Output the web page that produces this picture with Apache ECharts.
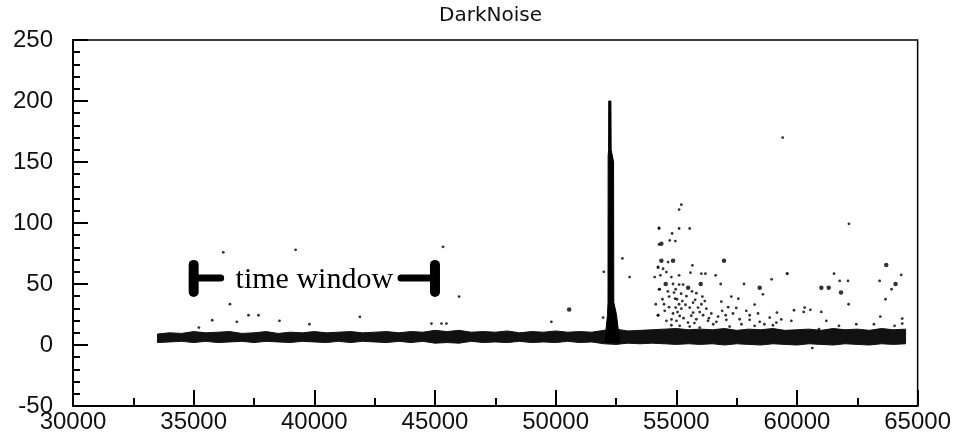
<!DOCTYPE html>
<html>
<head>
<meta charset="utf-8">
<script src="https://cdn.jsdelivr.net/npm/echarts@6/dist/echarts.min.js"></script>
<style>html,body{margin:0;padding:0;background:#fff}#c{width:954px;height:434px}</style>
</head>
<body>
<div id="c"></div>
<script>
// ---- data ----
const titleText = 'DarkNoise';
const xTicks = [30000, 35000, 40000, 45000, 50000, 55000, 60000, 65000];
const yTicks = [-50, 0, 50, 100, 150, 200, 250];

// dense noise band: envelope (x, lower edge, upper edge)
const bandX = [33500,34000,34500,35000,35500,36000,36500,37000,37500,38000,38500,39000,39500,40000,40500,41000,41500,42000,42500,43000,43500,44000,44500,45000,45500,46000,46500,47000,47500,48000,48500,49000,49500,50000,50500,51000,51500,52000,52500,53000,53500,54000,54500,55000,55500,56000,56500,57000,57500,58000,58500,59000,59500,60000,60500,61000,61500,62000,62500,63000,63500,64000,64500];
const bandLow = [2,2.5,3,2,3,2,2.5,3,2,3,2.5,2,3,2.5,2,3,2,3,2.5,2,3,2,3,1.5,2,1.5,3,2,2.5,2,3,2,2.5,2,3,2,2.5,1,0.5,1.5,1,1.5,1,0.5,1,0.5,1,0,1,0.5,0,1,0.5,0,1,0.5,0,1,0.5,0,1,0.5,1];
const bandHigh = [9,10,9.5,11,10,10.5,11,9.5,10,11,9.5,10.5,10,11,10,10.5,11,10,10.5,11,10,11,10.5,12,11,12,10.5,11,10.5,11.5,10,11,10.5,11.5,10.5,11,10.5,12,13,11.5,12,12.5,13,13.5,12.5,13,12.5,13.5,12,13,12.5,13.5,12,12.5,13,12,13.5,12.5,13,12,13.5,12.5,13];

// the narrow spike near x = 52250: outline points
const spikeX = [52035,52150,52170,52175,52195,52200,52290,52300,52400,52410,52520,52656];
const spikeY = [2,25,35,155,160,200,200,160,150,35,25,2];

// isolated points (small dots)
const smallPts = [
  [36226,76],[39224,78],[45333,80.5],[36503,33.5],[37273,24.4],[37687,24.4],[35768,20.3],[36790,19],[38556,19.8],[39798,17.1],[35216,14.3],
  [46000,39.7],[41887,23.1],[44854,17.6],[45268,17.6],[45475,17.6],[49822,19],[51994,60],[52766,71],[51966,22.5],
  [54284,96],[54284,82.4],[54243,64],[54105,55.7],[54284,45.6],[54243,24.4],
  [55210,115],[55115,111],[54285,95.5],[55115,95.5],[55555,95.5],[54825,91.4],[54727,85.7],[54960,85.2],
  [54660,68],[55665,65.3],[54245,63.4],[54450,62.5],[54590,59.8],[56040,58.5],[56205,58.5],[56630,57.1],[59600,58.5],
  [53065,55.7],[54340,57.1],[54795,55.7],[55115,57.1],[55585,59.3],[54865,50],[55115,49.5],[55280,49.5],[56840,50],[57805,50],[58950,53.8],
  [54315,45.7],[54975,45.7],[58590,41.5],[54905,43],[54700,39.7],[55830,42.5],[56080,39.7],[57280,39.7],[57570,38],
  [55030,37.5],[55250,36],[54425,37.5],[54150,33.4],[54490,33.4],[55115,33.4],[55695,34.7],[56040,33.4],[56865,35.6],[58245,33.1],
  [54975,30.7],[55210,29.8],[55555,30.7],[55900,30.7],[56245,29.8],[57485,30.4],
  [54245,24.4],[54865,25.8],[55140,23.8],[55695,26.6],[56110,24.4],[56450,25.8],[56730,23.3],[57045,24.4],[57350,25.8],[58040,24.4],[58385,25.8],[59170,26.6],
  [54590,19.8],[55005,19.8],[55485,18.4],[55830,21.1],[56315,19.8],[56660,19],[57075,20.6],[57625,21.1],[58040,20.6],[58455,19],[58870,22.5],[59145,18.4],
  [55140,15.7],[55555,15.1],[54795,16.2],[55970,14.3],[57210,15.1],[58245,15.7],[59005,16.2],
  [54520,28],[54700,31],[54800,21],[55050,27],[55300,22],[55380,33],[55620,24],[55750,18],[55420,40],[55650,44],[55970,27],[56180,36],
  [56530,17],[56900,28],[57150,31],[57700,17],[54650,44],[54950,38],[55200,42],[55780,37],[56350,22],[57900,28],[58650,17],[59350,21],
  [59408,170],[62155,99.3],[59590,58.5],[61535,58.5],[61770,52.5],[62115,52.5],[63425,52.5],[64320,57.4],[63920,45.7],
  [63670,37.5],[62140,33.4],[59877,28.5],[60319,30.7],[60554,28.8],[60278,27.1],[61009,27.1],[59767,19.8],[61216,19.8],
  [63452,23.3],[64362,21.7],[64362,17.6],[62458,17],[63190,17],[64045,15.7],[61740,15.7],[60912,13],[60636,-2.5]
];
// isolated points (larger dots)
const bigPts = [
  [54380,83],[54380,69],[54865,69],[56975,69],[54560,50],[56010,50],[55490,47],[58455,47],
  [63700,65.5],[64085,50],[61010,47],[61315,47],[61825,43],[50560,29]
];

// "time window" annotation
const windowStart = 35000;
const windowEnd = 45000;
const windowY = 55;
const windowLabel = 'time window';

// ---- chart ----
const chart = echarts.init(document.getElementById('c'), null, {renderer: 'canvas'});
const axisFont = {fontFamily: 'Liberation Sans', fontSize: 24, color: '#111', formatter: v => String(v)};
const lineBlack = {color: '#000', width: 2};

chart.setOption({
  animation: false,
  backgroundColor: '#fff',
  title: {
    text: titleText, left: 434, top: 1,
    textStyle: {fontFamily: 'DejaVu Sans', fontSize: 20, fontWeight: 'normal', color: '#111'}
  },
  grid: {left: 73, top: 40, right: 36, bottom: 27, show: true, borderColor: '#000', borderWidth: 1.5, backgroundColor: 'transparent'},
  xAxis: {
    type: 'value', min: xTicks[0], max: xTicks[xTicks.length - 1], interval: xTicks[1] - xTicks[0],
    axisLine: {show: true, lineStyle: lineBlack, onZero: false},
    axisTick: {show: true, inside: true, length: 16, lineStyle: lineBlack},
    minorTick: {show: true, splitNumber: 2, length: 8, lineStyle: lineBlack},
    splitLine: {show: false},
    axisLabel: Object.assign({margin: 4}, axisFont)
  },
  yAxis: {
    type: 'value', min: yTicks[0], max: yTicks[yTicks.length - 1], interval: yTicks[1] - yTicks[0],
    axisLine: {show: true, lineStyle: lineBlack, onZero: false},
    axisTick: {show: true, inside: true, length: 15, lineStyle: lineBlack},
    minorTick: {show: true, splitNumber: 5, length: 7, lineStyle: lineBlack},
    splitLine: {show: false},
    axisLabel: Object.assign({margin: 20}, axisFont)
  },
  series: [
    {
      type: 'custom', silent: true, data: [[bandX[0], bandLow[0]]],
      renderItem: function (params, api) {
        const pts = [];
        for (let i = 0; i < bandX.length; i++) pts.push(api.coord([bandX[i], bandHigh[i]]));
        for (let i = bandX.length - 1; i >= 0; i--) pts.push(api.coord([bandX[i], bandLow[i]]));
        return {type: 'polygon', shape: {points: pts}, style: {fill: '#111', stroke: '#111', lineWidth: 1}};
      }
    },
    {
      type: 'custom', silent: true, data: [[spikeX[0], spikeY[0]]],
      renderItem: function (params, api) {
        const pts = spikeX.map((x, i) => api.coord([x, spikeY[i]]));
        return {type: 'polygon', shape: {points: pts}, style: {fill: '#000', stroke: '#000', lineWidth: 1}};
      }
    },
    {
      type: 'scatter', data: smallPts, symbol: 'circle', symbolSize: 2.8,
      itemStyle: {color: '#000'}, silent: true
    },
    {
      type: 'scatter', data: bigPts, symbol: 'circle', symbolSize: 4.5,
      itemStyle: {color: '#000'}, silent: true
    },
    {
      type: 'custom', silent: true, data: [[windowStart, windowY]],
      renderItem: function (params, api) {
        const a = api.coord([windowStart, windowY]);
        const b = api.coord([windowEnd, windowY]);
        const mid = api.coord([(windowStart + windowEnd) / 2, windowY]);
        const st = {stroke: '#000', lineWidth: 10, lineCap: 'round'};
        const sh = {stroke: '#000', lineWidth: 7, lineCap: 'round'};
        return {
          type: 'group',
          children: [
            {type: 'line', shape: {x1: a[0], y1: a[1] - 13, x2: a[0], y2: a[1] + 14}, style: st},
            {type: 'line', shape: {x1: a[0], y1: a[1], x2: a[0] + 27, y2: a[1]}, style: sh},
            {type: 'line', shape: {x1: b[0], y1: b[1] - 13, x2: b[0], y2: b[1] + 14}, style: st},
            {type: 'line', shape: {x1: b[0], y1: b[1], x2: b[0] - 34, y2: b[1]}, style: sh},
            {type: 'text', x: mid[0], y: mid[1] + 2, style: {text: windowLabel, fill: '#000', font: '30px "Liberation Serif"', textAlign: 'center', textVerticalAlign: 'middle'}}
          ]
        };
      }
    }
  ]
});
</script>
</body>
</html>
